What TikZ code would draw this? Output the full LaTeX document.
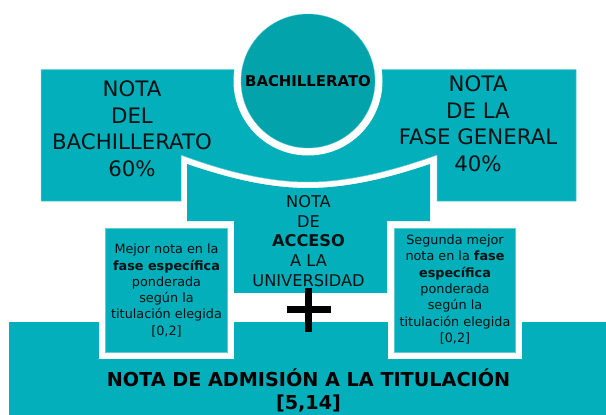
\documentclass[tikz,border=0pt]{standalone}
\usepackage{fontspec}
\setmainfont{DejaVu Sans}
\definecolor{teal1}{HTML}{02AFBA}
\definecolor{teal2}{HTML}{03A3AB}
\definecolor{edge1}{HTML}{5CCBD3}
\tikzset{
  x=1pt,y=-1pt,
  band/.style={fill=teal1,draw=edge1,line width=0.5pt},
  plain/.style={fill=teal1},
  gap/.style={fill=white},
  label/.style={align=center,inner sep=0pt,text=black!90!teal1},
  big/.style={label,font=\fontsize{21.3}{26.5}\selectfont},
  mid/.style={label,font=\fontsize{16.2}{19.7}\selectfont},
  small/.style={label,font=\fontsize{12.8}{16.3}\selectfont},
  total/.style={label,font=\fontsize{19.2}{23}\selectfont\bfseries,text=black},
}
\begin{document}
\begin{tikzpicture}
\useasboundingbox (0,0) rectangle (606,415);
% upper band and the white curve below the circle
\path[band] (41,69.5) -- (576,69.5) -- (576,201) -- (437,201) -- (437,155)
  .. controls (395,170) and (350,182) .. (308,182)
  .. controls (266,182) and (221,170) .. (181,155)
  -- (181,201) -- (41,201) -- cycle;
\path[gap] (308,81) circle (74.5);
\node[circle,minimum size=134,inner sep=0pt,fill=teal2,draw=edge1,line width=0.3pt] (bach) at (308,81) {};
% centre block
\path[plain] (187,164) .. controls (225,177) and (266,188) .. (308,188)
  .. controls (350,188) and (392,177) .. (430,164)
  -- (430,221) -- (387,221) -- (387,293) -- (234,293) -- (234,221) -- (187,221) -- cycle;
% bottom bar with its white frames
\path[plain] (8.5,322) rectangle (606,415);
\path[gap] (99,322) rectangle (234,359);
\path[gap] (387.5,322) rectangle (522,359);
\path[gap] (234,293) rectangle (387.5,322);
% small boxes
\node[band,minimum width=121.5,minimum height=123.5,inner sep=0pt] (left) at (166.25,290.25) {};
\node[band,minimum width=121,minimum height=123.5,inner sep=0pt] (right) at (454.5,290.25) {};
% plus
\path[fill=black] (305,288) rectangle (312,332);
\path[fill=black] (287,306) rectangle (331,313);
% texts
\node[label,font=\fontsize{14.9}{16}\selectfont\bfseries,text=black] (tb) at (308,81) {BACHILLERATO};
\node[big] (t1) at (132,128.5) {NOTA\\DEL\\BACHILLERATO\\60\%};
\node[big] (t2) at (478,123.5) {NOTA\\DE LA\\FASE GENERAL\\40\%};
\node[mid] (t3) at (308.5,241) {NOTA\\DE\\\textbf{ACCESO}\\A LA\\UNIVERSIDAD};
\node[small] (t4) at (166.5,290.5) {Mejor nota en la\\\textbf{fase específica}\\ponderada\\según la\\titulación elegida\\{[0,2]}};
\node[small] (t5) at (455,289.5) {Segunda mejor\\nota en la \textbf{fase}\\\textbf{específica}\\ponderada\\según la\\titulación elegida\\{[0,2]}};
\node[total] (t6) at (308.5,390.5) {NOTA DE ADMISIÓN A LA TITULACIÓN\\{[5,14]}};
\end{tikzpicture}
\end{document}
